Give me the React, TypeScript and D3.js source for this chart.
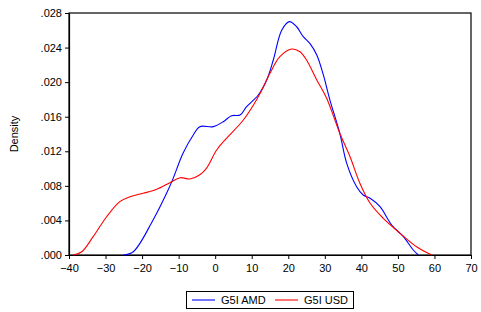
import { useRef, useEffect } from 'react';
import * as d3 from 'd3';

// Kernel density estimates: [value, density]
const amdX = [-25.1, -22.4, -17.0, -13.3, -11.5, -8.8, -6.0, -4.2, -0.5, 2.2, 4.5, 6.8, 8.6, 11.8, 14.1, 15.9, 18.2, 20.3, 22.3, 24.1, 25.9, 27.8, 29.6, 31.4, 34.1, 36.0, 38.7, 40.5, 42.4, 45.1, 48.3, 51.5, 54.2, 55.6];
const amdY = [0, 0.00038, 0.00405, 0.00714, 0.00887, 0.01177, 0.01388, 0.01485, 0.01485, 0.01542, 0.01612, 0.0162, 0.01716, 0.01851, 0.02025, 0.02256, 0.026, 0.027, 0.02641, 0.02526, 0.02449, 0.02314, 0.02083, 0.01793, 0.01408, 0.0106, 0.0079, 0.00694, 0.00656, 0.00559, 0.00347, 0.00212, 0.00058, 0];

const usdX = [-38.8, -36.5, -33.4, -29.7, -26.1, -23.3, -19.7, -16.0, -12.4, -9.6, -6.9, -4.2, -2.4, 0.4, 3.1, 7.7, 11.8, 15.0, 17.7, 20.9, 23.2, 25.0, 27.8, 30.5, 34.1, 36.9, 39.6, 42.4, 46.0, 50.6, 55.1, 58.8, 59.4];
const usdY = [0, 0.00038, 0.00212, 0.00443, 0.00617, 0.00675, 0.00714, 0.0076, 0.00837, 0.00894, 0.00879, 0.00929, 0.01003, 0.01215, 0.0135, 0.01562, 0.01832, 0.02102, 0.02294, 0.02383, 0.02352, 0.02256, 0.02025, 0.01813, 0.01408, 0.01137, 0.0083, 0.00598, 0.00424, 0.00251, 0.00096, 0.0001, 0];

const xTicks = [-40, -30, -20, -10, 0, 10, 20, 30, 40, 50, 60, 70];
const yTicks = [0, 0.004, 0.008, 0.012, 0.016, 0.02, 0.024, 0.028];

const seriesNames = ['G5I AMD', 'G5I USD'];
const seriesColors = ['#0000ff', '#ff0000'];

export default function App() {
  const svgRef = useRef<SVGSVGElement>(null);

  useEffect(() => {
    if (!svgRef.current) return;
    const svg = d3.select(svgRef.current);
    svg.selectAll('*').remove();

    const left = 69, right = 471, top = 13, bottom = 255;
    const font = 'Liberation Sans, Arial, sans-serif';

    const x = d3.scaleLinear().domain([-40, 70]).range([left, right]);
    const y = d3.scaleLinear().domain([0, 0.028]).range([bottom, top]);

    // frame
    svg.append('rect')
      .attr('x', left).attr('y', top)
      .attr('width', right - left).attr('height', bottom - top)
      .attr('fill', 'none').attr('stroke', '#000').attr('stroke-width', 1.2);

    const xAxis = svg.append('g')
      .attr('transform', `translate(0,${bottom})`)
      .call(d3.axisBottom(x).tickValues(xTicks).tickSize(4).tickSizeOuter(0).tickFormat(d3.format('d')));
    const yAxis = svg.append('g')
      .attr('transform', `translate(${left},0)`)
      .call(d3.axisLeft(y).tickValues(yTicks).tickSize(4).tickSizeOuter(0)
        .tickFormat(d => d3.format('.3f')(d as number).replace(/^0/, '')));

    [xAxis, yAxis].forEach(a => {
      a.select('.domain').attr('stroke', '#000').attr('stroke-width', 1.2);
      a.selectAll('line').attr('stroke', '#000');
      a.selectAll('text').attr('font-family', font).attr('font-size', 11).attr('fill', '#000');
    });
    xAxis.selectAll('text').attr('dy', '0.9em');

    svg.append('text')
      .attr('transform', `translate(18,${(top + bottom) / 2}) rotate(-90)`)
      .attr('text-anchor', 'middle')
      .attr('font-family', font).attr('font-size', 11)
      .text('Density');

    const line = d3.line<[number, number]>()
      .x(d => x(d[0])).y(d => Math.min(bottom, y(d[1])))
      .curve(d3.curveCatmullRom.alpha(0.5));

    const series = [d3.zip(amdX, amdY), d3.zip(usdX, usdY)] as [number, number][][];
    series.forEach((s, i) => {
      svg.append('path')
        .attr('d', line(s))
        .attr('fill', 'none')
        .attr('stroke', seriesColors[i])
        .attr('stroke-width', 1.1);
    });

    // legend
    const lg = svg.append('g');
    lg.append('rect')
      .attr('x', 186.5).attr('y', 291.5).attr('width', 167).attr('height', 17)
      .attr('fill', '#fff').attr('stroke', '#000').attr('stroke-width', 1);
    const items = [192, 275];
    items.forEach((lx, i) => {
      lg.append('line')
        .attr('x1', lx).attr('x2', lx + 23).attr('y1', 300).attr('y2', 300)
        .attr('stroke', seriesColors[i]).attr('stroke-width', 1.1);
      lg.append('text')
        .attr('x', lx + 29).attr('y', 304)
        .attr('font-family', font).attr('font-size', 11)
        .text(seriesNames[i]);
    });
  }, []);

  return (
    <svg
      ref={svgRef}
      width={481}
      height={312}
      style={{ position: 'absolute', left: 0, top: 0, background: '#fff' }}
    />
  );
}
